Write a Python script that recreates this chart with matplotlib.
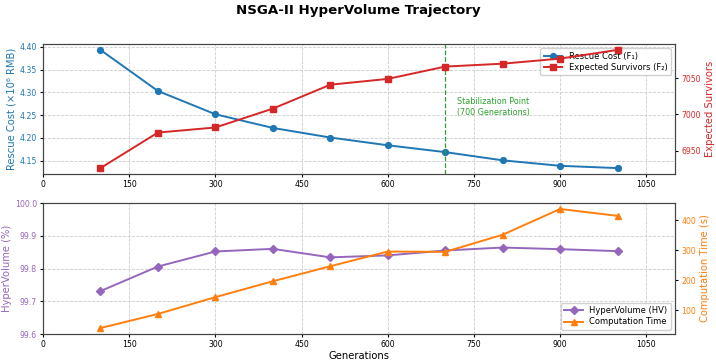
import numpy as np
import matplotlib.pyplot as plt

generations = [100, 200, 300, 400, 500, 600, 700, 800, 900, 1000]
rescue_cost = [4.393, 4.303, 4.252, 4.222, 4.201, 4.184, 4.169, 4.151, 4.139, 4.134]
survivors = [6926, 6975, 6982, 7008, 7041, 7049, 7066, 7070, 7077, 7089]
hypervolume = [99.731, 99.806, 99.852, 99.860, 99.834, 99.840, 99.855, 99.864, 99.859, 99.853]
comp_time = [40, 87, 143, 196, 246, 295, 294, 351, 437, 414]
x_ticks = list(range(0, 1100, 150))

c_blue, c_red, c_purple, c_orange, c_green = '#1f77b4', '#d62728', '#9467bd', '#ff7f0e', '#2ca02c'

TICK, LAB, LEG, LW, MS = 5.6, 7.2, 6.0, 1.4, 4.2

fig = plt.figure(figsize=(7.16, 3.62), dpi=100)
W, H = 716, 362
ax1 = fig.add_axes([43 / W, 1 - 174 / H, 632 / W, 130 / H])
ax3 = fig.add_axes([43 / W, 1 - 334 / H, 632 / W, 131 / H])

# top panel: cost vs survivors
l1, = ax1.plot(generations, rescue_cost, '-o', color=c_blue, lw=LW, ms=MS, label='Rescue Cost (F₁)')
ax1.set_ylabel('Rescue Cost (×10⁶ RMB)', color=c_blue, fontsize=LAB, labelpad=2)
ax1.tick_params(axis='y', labelcolor=c_blue, labelsize=TICK, length=2.5, pad=2)
ax1.tick_params(axis='x', labelsize=TICK, length=2.5, pad=2)
ax1.set_xlim(0, 1100)
ax1.set_xticks(x_ticks)
ax1.grid(True, ls='--', color='#cccccc', lw=0.6)
ax1.axvline(700, color=c_green, ls='--', lw=0.9)
ax1.text(720, 4.268, 'Stabilization Point\n(700 Generations)', color=c_green, fontsize=5.8, va='center')

ax2 = ax1.twinx()
l2, = ax2.plot(generations, survivors, '-s', color=c_red, lw=LW, ms=MS, label='Expected Survivors (F₂)')
ax2.set_ylabel('Expected Survivors', color=c_red, fontsize=LAB, labelpad=3)
ax2.tick_params(axis='y', labelcolor=c_red, labelsize=TICK, length=2.5, pad=2)
ax2.set_yticks([6950, 7000, 7050])
ax1.legend(handles=[l1, l2], loc='upper right', fontsize=LEG, framealpha=0.9,
           borderpad=0.4, handlelength=2.2, labelspacing=0.3)

# bottom panel: hypervolume vs computation time
l3, = ax3.plot(generations, hypervolume, '-D', color=c_purple, lw=LW, ms=MS, label='HyperVolume (HV)')
ax3.set_ylabel('HyperVolume (%)', color=c_purple, fontsize=LAB, labelpad=2)
ax3.set_ylim(99.6, 100.0)
ax3.set_yticks([99.6, 99.7, 99.8, 99.9, 100.0])
ax3.tick_params(axis='y', labelcolor=c_purple, labelsize=TICK, length=2.5, pad=2)
ax3.tick_params(axis='x', labelsize=TICK, length=2.5, pad=2)
ax3.set_xlim(0, 1100)
ax3.set_xticks(x_ticks)
ax3.set_xlabel('Generations', fontsize=LAB, labelpad=1)
ax3.grid(True, ls='--', color='#cccccc', lw=0.6)

ax4 = ax3.twinx()
l4, = ax4.plot(generations, comp_time, '-^', color=c_orange, lw=LW, ms=MS, label='Computation Time')
ax4.set_ylabel('Computation Time (s)', color=c_orange, fontsize=LAB, labelpad=3)
ax4.tick_params(axis='y', labelcolor=c_orange, labelsize=TICK, length=2.5, pad=2)
ax4.set_yticks([100, 200, 300, 400])
ax3.legend(handles=[l3, l4], loc='lower right', fontsize=LEG, framealpha=0.9,
           borderpad=0.4, handlelength=2.2, labelspacing=0.3)

fig.suptitle('NSGA-II HyperVolume Trajectory', fontsize=9.6, fontweight='bold', y=0.99)

for a in (ax1, ax2, ax3, ax4):
    for s in a.spines.values():
        s.set_color('#444444')
        s.set_linewidth(0.8)

plt.savefig('out.png', dpi=100)
